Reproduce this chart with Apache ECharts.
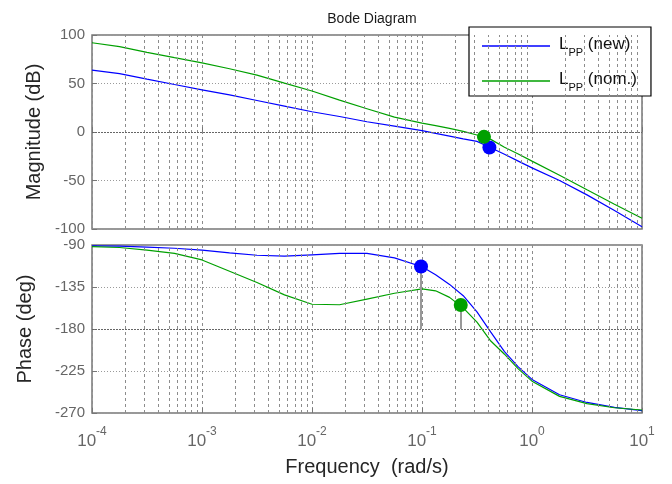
<!DOCTYPE html>
<html>
<head>
<meta charset="utf-8">
<script src="https://cdn.jsdelivr.net/npm/echarts@6/dist/echarts.min.js"></script>
<style>
  html, body { margin: 0; padding: 0; background: #ffffff; }
  #chart { width: 672px; height: 484px; }
</style>
</head>
<body>
<div id="chart"></div>
<script>
// Frequency samples (rad/s) shared by every response curve
const freq = [1e-4, 1.78e-4, 3.16e-4, 5.62e-4, 1e-3, 1.78e-3, 3.16e-3, 5.62e-3,
              0.01, 0.0178, 0.0316, 0.0562, 0.1, 0.133, 0.178, 0.237, 0.316,
              0.422, 0.562, 0.75, 1, 1.78, 3.16, 5.62, 10];

// Loop magnitude (dB)
const magNew = [63.8, 60.2, 54.6, 49, 43.5, 38.2, 32.5, 26.7, 20.9, 16, 10.6, 6, 1.4,
                -1.5, -4.2, -7, -9.7, -16.3, -23, -30, -37, -50, -64.8, -81, -97.7];
const magNom = [92, 88, 82.1, 76.6, 71.3, 65.2, 58.6, 50.4, 42.3, 32.8, 24, 15.3, 9.1,
                6.5, 3.8, 0.7, -3.1, -7.6, -15.8, -22.6, -30, -44.5, -59.5, -74.4, -89];

// Loop phase (deg)
const phaseNew = [-91, -91.3, -92.3, -93.5, -95.5, -98.5, -101, -102, -100.5, -99, -99,
                  -103.8, -113.3, -121.9, -132.2, -144.3, -161.7, -183.4, -204.2,
                  -220.6, -234, -250.4, -258.7, -263.9, -267.5];
const phaseNom = [-91.8, -92.7, -95.5, -99, -106, -118.1, -130.2, -143.4, -153.5, -154,
                  -147.9, -141.7, -137, -139.1, -146.1, -157.4, -172.7, -192.9, -207,
                  -222.7, -235.9, -252.2, -260, -264.4, -266.8];

// Marked points: [new, nom.]
const gainPtFreq = [0.41, 0.366];
const gainPtMag = [-16, -5];
const phasePtFreq = [0.098, 0.225];
const phasePtDeg = [-113, -154.3];

// Legend text pieces
const seriesNames = ['Lpp (new)', 'Lpp (nom.)'];
const legendBase = ['L', 'L'];
const legendSub = ['PP', 'PP'];
const legendSuffix = [' (new)', ' (nom.)'];

// Axis definitions
const freqMin = 1e-4, freqMax = 10;
const magTicks = { min: -100, max: 100, interval: 50 };
const phaseTicks = { min: -270, max: -90, interval: 45 };
const phaseRef = -180;

const colors = ['#0000ff', '#00a000'];
const gridGray = '#8c8c8c';
const labelGray = '#666666';
const font = 'Liberation Sans, Arial, sans-serif';

// Minor decade lines at 2..9 x 10^k
const minorLines = [];
for (let d = -4; d < 1; d++) {
  for (let k = 2; k <= 9; k++) minorLines.push(k * Math.pow(10, d));
}

const pairs = (xs, ys) => xs.map((x, i) => [x, ys[i]]);

function xAxisDef(gridIndex, showLabels) {
  return {
    type: 'log', logBase: 10, gridIndex: gridIndex, min: freqMin, max: freqMax,
    axisLine: { show: false },
    axisTick: { show: true, inside: true, length: 5, lineStyle: { color: '#777' } },
    splitLine: { show: true, lineStyle: { color: gridGray, type: [3, 3], width: 1 } },
    axisLabel: showLabels ? {
      show: true, margin: 13, fontFamily: font,
      formatter: function (v) {
        const e = Math.round(Math.log10(v));
        return '{b|10}{s|' + e + '}';
      },
      rich: {
        b: { fontSize: 17, color: labelGray, fontFamily: font, padding: [7, 0, 0, 0], verticalAlign: 'bottom' },
        s: { fontSize: 12, color: labelGray, fontFamily: font, verticalAlign: 'top' }
      }
    } : { show: false },
    name: showLabels ? 'Frequency  (rad/s)' : '',
    nameLocation: 'middle', nameGap: 44,
    nameTextStyle: { fontSize: 20, color: '#262626', fontFamily: font }
  };
}

function yAxisDef(gridIndex, ticks, name, gap) {
  return {
    type: 'value', gridIndex: gridIndex, min: ticks.min, max: ticks.max, interval: ticks.interval,
    axisLine: { show: false },
    axisTick: { show: true, inside: true, length: 5, lineStyle: { color: '#777' } },
    splitLine: { show: true, lineStyle: { color: '#9a9a9a', type: [1, 2], width: 1 } },
    axisLabel: { fontSize: 15, color: labelGray, fontFamily: font, margin: 7 },
    name: name, nameLocation: 'middle', nameGap: gap,
    nameTextStyle: { fontSize: 20, color: '#262626', fontFamily: font }
  };
}

function curve(name, xi, data, color) {
  return {
    name: name, type: 'line', xAxisIndex: xi, yAxisIndex: xi,
    data: data, showSymbol: false, symbol: 'none', smooth: false, z: 3,
    lineStyle: { color: color, width: 1.2 }, itemStyle: { color: color }
  };
}

function gridLines(xi, refLevel) {
  const data = minorLines.map(v => ({ xAxis: v }));
  return {
    type: 'line', xAxisIndex: xi, yAxisIndex: xi, data: [], z: 1, silent: true,
    markLine: {
      silent: true, symbol: ['none', 'none'], animation: false, precision: 12,
      label: { show: false },
      lineStyle: { color: gridGray, type: [3, 3], width: 1 },
      data: data.concat([{ yAxis: refLevel, lineStyle: { color: '#666', type: [2, 1], width: 1 } }])
    }
  };
}

const chart = echarts.init(document.getElementById('chart'), null, { renderer: 'canvas' });

chart.setOption({
  backgroundColor: '#ffffff',
  animation: false,
  title: {
    text: 'Bode Diagram', left: 367, top: 7, textAlign: 'center',
    textStyle: { fontSize: 14, fontWeight: 'normal', color: '#1a1a1a', fontFamily: font }
  },
  legend: {
    data: seriesNames, orient: 'vertical', left: 469, top: 27,
    padding: [9, 14, 3, 13], itemGap: 13,
    backgroundColor: '#ffffff', borderColor: '#000000', borderWidth: 1.2, borderRadius: 0,
    icon: 'rect', itemWidth: 68, itemHeight: 1.6,
    formatter: function (name) {
      const i = seriesNames.indexOf(name);
      return '{l|' + legendBase[i] + '}{sub|' + legendSub[i] + '}{t|' + legendSuffix[i] + '}';
    },
    textStyle: {
      padding: [0, 0, 0, 4],
      rich: {
        l: { fontSize: 17, color: '#111', fontFamily: font, lineHeight: 20, verticalAlign: 'top' },
        sub: { fontSize: 11, color: '#111', fontFamily: font, lineHeight: 12, padding: [11, 0, 0, 0], verticalAlign: 'top' },
        t: { fontSize: 17, color: '#111', fontFamily: font, lineHeight: 20, verticalAlign: 'top' }
      }
    }
  },
  grid: [
    { left: 92, top: 35, width: 550, height: 194, show: true, borderColor: '#777', borderWidth: 1.5, backgroundColor: 'transparent' },
    { left: 92, top: 245, width: 550, height: 168, show: true, borderColor: '#777', borderWidth: 1.5, backgroundColor: 'transparent' }
  ],
  xAxis: [xAxisDef(0, false), xAxisDef(1, true)],
  yAxis: [
    yAxisDef(0, magTicks, 'Magnitude (dB)', 46),
    yAxisDef(1, phaseTicks, 'Phase (deg)', 57)
  ],
  series: [
    gridLines(0, 0),
    gridLines(1, phaseRef),
    curve(seriesNames[0], 0, pairs(freq, magNew), colors[0]),
    curve(seriesNames[1], 0, pairs(freq, magNom), colors[1]),
    curve(seriesNames[0], 1, pairs(freq, phaseNew), colors[0]),
    curve(seriesNames[1], 1, pairs(freq, phaseNom), colors[1]),
    {
      type: 'scatter', xAxisIndex: 0, yAxisIndex: 0, symbolSize: 14, z: 5, silent: true,
      data: gainPtFreq.map((f, i) => ({ value: [f, gainPtMag[i]], itemStyle: { color: colors[i], opacity: 1 } }))
    },
    {
      type: 'scatter', xAxisIndex: 1, yAxisIndex: 1, symbolSize: 14, z: 5, silent: true,
      data: phasePtFreq.map((f, i) => ({ value: [f, phasePtDeg[i]], itemStyle: { color: colors[i], opacity: 1 } })),
      markLine: {
        silent: true, symbol: ['none', 'none'], animation: false, label: { show: false },
        precision: 12,
        lineStyle: { color: '#999999', type: 'solid', width: 2 },
        data: phasePtFreq.map((f, i) => [{ coord: [f, phasePtDeg[i]] }, { coord: [f, phaseRef] }])
      }
    }
  ]
});
</script>
</body>
</html>
